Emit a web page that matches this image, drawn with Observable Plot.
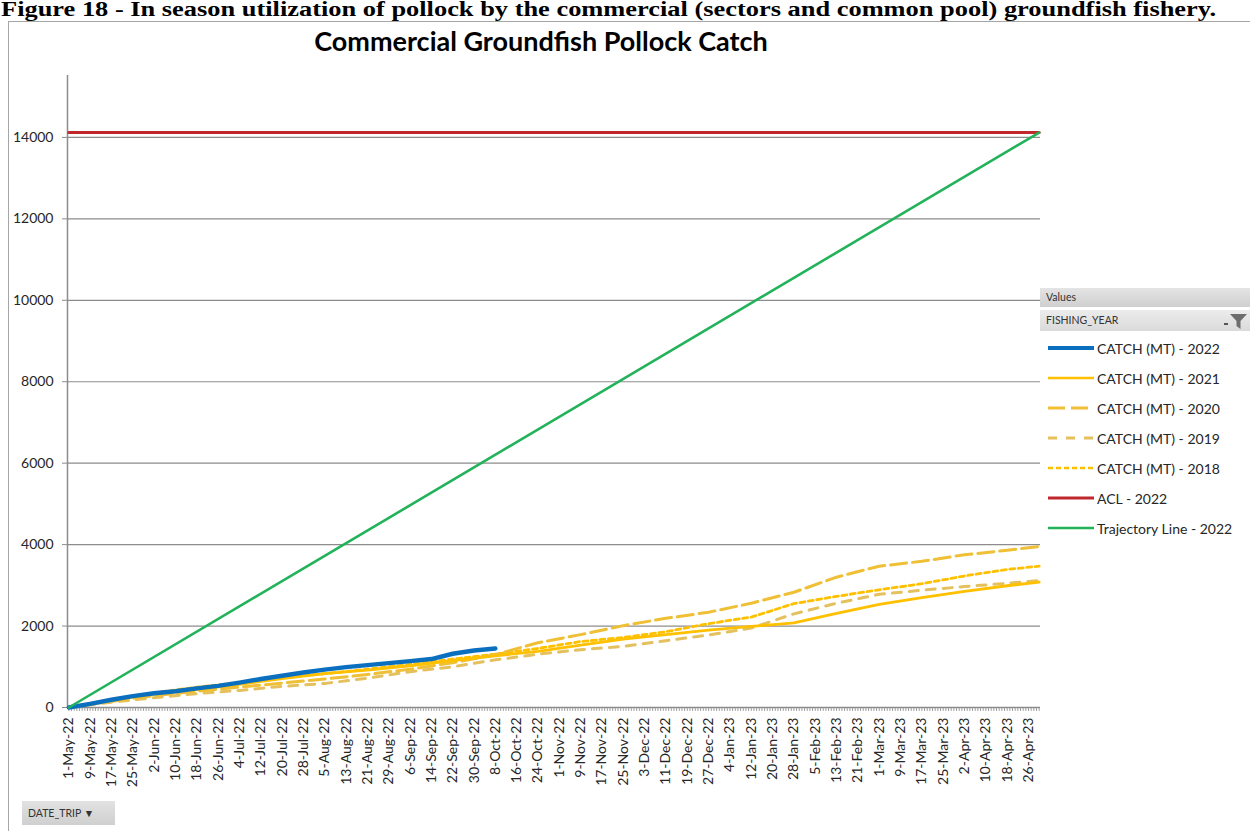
<!DOCTYPE html>
<html><head><meta charset="utf-8">
<script src="https://cdn.jsdelivr.net/npm/d3@7"></script>
<script src="https://cdn.jsdelivr.net/npm/@observablehq/plot@0.6"></script>
<style>
body{margin:0;background:#fff;width:1250px;height:831px;overflow:hidden;position:relative;font-family:Lato,"Open Sans",sans-serif}
#cap{position:absolute;left:1px;top:-2px;font:bold 20px "Liberation Serif","Times New Roman",serif;line-height:22px;white-space:nowrap;color:#000;transform:scaleX(1.32);transform-origin:0 0}
#frame{position:absolute;left:8px;top:21px;width:1260px;height:830px;border-left:1px solid #a6a6a6;border-top:1px solid #a6a6a6}
#title{position:absolute;left:0;width:1082px;top:24px;text-align:center;font:bold 27px Lato,sans-serif;color:#000}
#chart{position:absolute;left:0;top:0}
#legend{position:absolute;left:1040px;top:288px;width:210px;font-family:Lato,sans-serif;color:#262626}
#legend .hdr{height:19px;background:linear-gradient(#e4e4e4,#cfcfcf);font-size:10.5px;line-height:19px;padding-left:6px;color:#333}
#legend .fy{margin-top:3px;height:21px;background:linear-gradient(#ececec,#dadada);font-size:10.5px;line-height:21px;padding-left:6px;color:#333;position:relative}
#legend .fy svg{position:absolute;right:2px;top:2px}
#legend .row{height:30px;display:flex;align-items:center;font-size:14px}
#legend .row svg{margin-left:8px;margin-right:3px}
#btn{position:absolute;left:22px;top:801px;width:93px;height:24px;background:linear-gradient(#e2e2e2,#cfcfcf);font:10.5px Lato,sans-serif;line-height:24px;padding-left:6px;box-sizing:border-box;color:#333}
</style></head>
<body>
<div id="cap">Figure 18 - In season utilization of pollock by the commercial (sectors and common pool) groundfish fishery.</div>
<div id="frame"></div>
<div id="chart"></div>
<div id="title">Commercial Groundfish Pollock Catch</div>
<div id="legend"></div>
<div id="btn">DATE_TRIP &#9660;</div>
<script>
// ---- data ----
const seasonStart = "2022-05-01";
const seasonEnd = "2023-04-30";
const xTickLabels = ["1-May-22","9-May-22","17-May-22","25-May-22","2-Jun-22","10-Jun-22","18-Jun-22","26-Jun-22","4-Jul-22","12-Jul-22","20-Jul-22","28-Jul-22","5-Aug-22","13-Aug-22","21-Aug-22","29-Aug-22","6-Sep-22","14-Sep-22","22-Sep-22","30-Sep-22","8-Oct-22","16-Oct-22","24-Oct-22","1-Nov-22","9-Nov-22","17-Nov-22","25-Nov-22","3-Dec-22","11-Dec-22","19-Dec-22","27-Dec-22","4-Jan-23","12-Jan-23","20-Jan-23","28-Jan-23","5-Feb-23","13-Feb-23","21-Feb-23","1-Mar-23","9-Mar-23","17-Mar-23","25-Mar-23","2-Apr-23","10-Apr-23","18-Apr-23","26-Apr-23"];
const yTicks = [0,2000,4000,6000,8000,10000,12000,14000];

// 2022 fishing year (to 8-Oct-22)
const dates2022 = ["2022-05-01","2022-05-09","2022-05-17","2022-05-25","2022-06-02","2022-06-10","2022-06-18","2022-06-26","2022-07-04","2022-07-12","2022-07-20","2022-07-28","2022-08-05","2022-08-13","2022-08-21","2022-08-29","2022-09-06","2022-09-14","2022-09-22","2022-09-30","2022-10-08"];
const catch2022 = [0,90,190,280,350,400,470,530,610,700,780,860,930,990,1040,1090,1140,1190,1320,1400,1450];

// previous years, aligned to the same day of season
const datesPrev = ["2022-05-01","2022-05-17","2022-06-02","2022-06-18","2022-07-04","2022-07-20","2022-08-05","2022-08-21","2022-09-06","2022-09-22","2022-10-08","2022-10-24","2022-11-09","2022-11-25","2022-12-11","2022-12-27","2023-01-12","2023-01-28","2023-02-13","2023-03-01","2023-03-17","2023-04-02","2023-04-18","2023-04-30"];
const catch2021 = [0,180,330,440,570,710,830,920,1020,1150,1270,1380,1530,1680,1790,1900,1990,2080,2310,2530,2700,2850,2990,3080];
const catch2020 = [0,150,290,400,500,600,700,810,940,1100,1300,1590,1790,2010,2190,2340,2560,2830,3200,3470,3590,3750,3860,3955];
const catch2019 = [0,130,240,340,420,520,590,720,880,1000,1170,1310,1420,1500,1640,1780,1950,2300,2560,2780,2880,2970,3050,3120];
const catch2018 = [0,200,360,500,610,730,830,940,1060,1190,1310,1450,1620,1720,1860,2060,2220,2550,2730,2890,3040,3230,3390,3470];

const aclValue = 14120;
const trajDates = [seasonStart, seasonEnd];
const trajValues = [0, 14120];

// ---- build ----
const P = d3.utcParse("%Y-%m-%d");
const t0 = P(seasonStart), t1 = P(seasonEnd);
const half = 12*3600*1000;
const allDays = d3.utcDay.range(t0, d3.utcDay.offset(t1,1));
const labelDates = xTickLabels.map((_, i) => d3.utcDay.offset(t0, i*8));
const labelMap = new Map(labelDates.map((d,i)=>[+d, xTickLabels[i]]));

const mk = (dates, vals) => dates.map((d,i)=>({date:P(d), value:vals[i]}));
const s2022 = mk(dates2022, catch2022);
const s2021 = mk(datesPrev, catch2021);
const s2020 = mk(datesPrev, catch2020);
const s2019 = mk(datesPrev, catch2019);
const s2018 = mk(datesPrev, catch2018);
const sAcl = [{date:t0,value:aclValue},{date:t1,value:aclValue}];
const sTraj = mk(trajDates, trajValues);

const C = {c2022:"#0b6fc0", c2021:"#ffc000", c2020:"#efbf35", c2019:"#e4c05e", c2018:"#ffc000", acl:"#c0282d", traj:"#22b35a"};
const axisGray = "#8c8c8c";

const chart = Plot.plot({
  width:1250, height:831,
  marginLeft:67, marginRight:210, marginTop:75, marginBottom:124,
  style:{fontFamily:"Lato, sans-serif", fontSize:"14px", color:"#262626", background:"transparent", overflow:"visible"},
  x:{type:"utc", domain:[new Date(+t0-half), new Date(+t1+half)]},
  y:{domain:[0,15520]},
  marks:[
    Plot.gridY({ticks:yTicks.filter(v=>v>0), stroke:axisGray, strokeOpacity:1, strokeWidth:1.2}),
    Plot.axisY({ticks:yTicks, tickSize:5, tickPadding:9, label:null, tickFormat:d=>String(d), stroke:axisGray, fontSize:14}),
    Plot.axisX({ticks:allDays, tickSize:4, tickFormat:()=>"", label:null, stroke:axisGray, strokeWidth:0.8}),
    Plot.axisX({ticks:labelDates, tickSize:0, tickPadding:10, tickRotate:-90, tickFormat:d=>labelMap.get(+d), label:null, fontSize:14}),
    Plot.ruleY([0], {stroke:axisGray, strokeWidth:1.5}),
    Plot.ruleX([new Date(+t0-half)], {stroke:axisGray, strokeWidth:1.5}),
    Plot.line(s2018, {x:"date", y:"value", stroke:C.c2018, strokeWidth:2.8, strokeDasharray:"5,3.5"}),
    Plot.line(s2019, {x:"date", y:"value", stroke:C.c2019, strokeWidth:3, strokeDasharray:"9,8"}),
    Plot.line(s2020, {x:"date", y:"value", stroke:C.c2020, strokeWidth:3, strokeDasharray:"16,6"}),
    Plot.line(s2021, {x:"date", y:"value", stroke:C.c2021, strokeWidth:2.8}),
    Plot.line(s2022, {x:"date", y:"value", stroke:C.c2022, strokeWidth:4.4}),
    Plot.line(sAcl, {x:"date", y:"value", stroke:C.acl, strokeWidth:3}),
    Plot.line(sTraj, {x:"date", y:"value", stroke:C.traj, strokeWidth:2.6})
  ]
});
document.getElementById("chart").appendChild(chart);

// legend
const legendItems = [
  {label:"CATCH (MT) - 2022", color:C.c2022, w:4.2, dash:null},
  {label:"CATCH (MT) - 2021", color:C.c2021, w:2.6, dash:null},
  {label:"CATCH (MT) - 2020", color:C.c2020, w:2.8, dash:"17,6"},
  {label:"CATCH (MT) - 2019", color:C.c2019, w:2.8, dash:"9,9"},
  {label:"CATCH (MT) - 2018", color:C.c2018, w:2.6, dash:"5,3"},
  {label:"ACL - 2022", color:C.acl, w:3, dash:null},
  {label:"Trajectory Line - 2022", color:C.traj, w:2.6, dash:null}
];
const lg = document.getElementById("legend");
lg.innerHTML = '<div class="hdr">Values</div><div class="fy">FISHING_YEAR<svg width="26" height="18" viewBox="0 0 26 18"><path d="M8 2 H25 L18.5 9 V17 L14.5 14 V9 Z" fill="#6d6d6d"/><rect x="2" y="11" width="4" height="2" fill="#555"/></svg></div><div style="height:2px"></div>' +
  legendItems.map(it => `<div class="row"><svg width="46" height="10"><line x1="0" x2="46" y1="5" y2="5" stroke="${it.color}" stroke-width="${it.w}" ${it.dash?`stroke-dasharray="${it.dash}"`:""}/></svg><span>${it.label}</span></div>`).join("");
</script>
</body></html>
